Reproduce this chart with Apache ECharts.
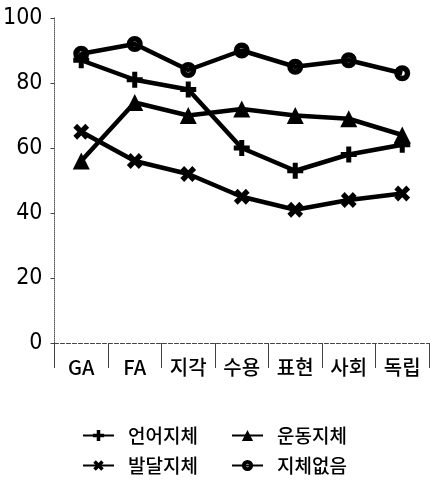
<!DOCTYPE html>
<html>
<head>
<meta charset="utf-8">
<script src="https://cdn.jsdelivr.net/npm/echarts@6/dist/echarts.min.js"></script>
<style>
  html, body { margin: 0; padding: 0; background: #fff; }
  #chart { width: 433px; height: 495px; }
</style>
</head>
<body>
<div id="chart"></div>
<script>
// Domain categories and scores per group
const categories = ['GA', 'FA', '지각', '수용', '표현', '사회', '독립'];
const yTicks = [0, 20, 40, 60, 80, 100];

const languageDelay = [87, 81, 78, 60, 53, 58, 61];   // 언어지체
const motorDelay    = [56, 74, 70, 72, 70, 69, 64];   // 운동지체
const devDelay      = [65, 56, 52, 45, 41, 44, 46];   // 발달지체
const noDelay       = [89, 92, 84, 90, 85, 87, 83];   // 지체없음

const seriesNames = ['언어지체', '운동지체', '발달지체', '지체없음'];

// heavy plus sign; rotated 45 degrees it becomes the cross marker
const plusPath = 'path://M-2.2,-7 h4.4 v4.8 h4.8 v4.4 h-4.8 v4.8 h-4.4 v-4.8 h-4.8 v-4.4 h4.8z';
// solid disc with a small hole in the middle (inner arc runs the other way)
const ringPath = 'path://M0,-7A7,7,0,1,1,0,7A7,7,0,1,1,0,-7Z M0,-2.2A2.2,2.2,0,1,0,0,2.2A2.2,2.2,0,1,0,0,-2.2Z';
const KR = '"Noto Sans CJK KR", sans-serif';
const NUM = '"DejaVu Sans Condensed", "Liberation Sans Narrow", "Liberation Sans", sans-serif';

function lineSeries(name, data, symbol, size, extra) {
  return Object.assign({
    name: name,
    type: 'line',
    data: data,
    symbol: symbol,
    symbolSize: size,
    lineStyle: { color: '#000', width: 4.5 },
    itemStyle: { color: '#000', borderColor: '#000', borderWidth: 0 },
    emphasis: { disabled: true },
    animation: false
  }, extra || {});
}

function legendItem(name, left, top) {
  return {
    data: [name],
    left: left, top: top,
    itemWidth: 31, itemHeight: 14,
    textStyle: { color: '#000', fontSize: 19, fontWeight: 500, fontFamily: KR, padding: [0, 0, 0, 9] },
    selectedMode: false
  };
}

const chart = echarts.init(document.getElementById('chart'), null, { renderer: 'canvas' });
chart.setOption({
  backgroundColor: '#fff',
  grid: { left: 53, right: 4, top: 18, bottom: 152, containLabel: false },
  xAxis: {
    type: 'category',
    data: categories,
    boundaryGap: true,
    axisLine: { show: true, lineStyle: { color: '#444', width: 1, type: 'dashed' } },
    axisTick: { show: true, length: 25, interval: 0, lineStyle: { color: '#444', width: 1 } },
    axisLabel: { color: '#000', fontSize: 20, fontWeight: 500, fontFamily: KR, margin: 14, interval: 0 },
    splitLine: { show: false }
  },
  yAxis: {
    type: 'value',
    min: yTicks[0],
    max: yTicks[yTicks.length - 1],
    interval: 20,
    axisLine: { show: true, lineStyle: { color: '#555', width: 1, type: 'dotted' } },
    axisTick: { show: true, length: 4, lineStyle: { color: '#444' } },
    axisLabel: { color: '#000', fontSize: 23, fontFamily: NUM, margin: 12 },
    splitLine: { show: false }
  },
  legend: [
    legendItem(seriesNames[0], 77, 421),
    legendItem(seriesNames[1], 226, 421),
    legendItem(seriesNames[2], 77, 451),
    legendItem(seriesNames[3], 226, 451)
  ],
  series: [
    lineSeries(seriesNames[0], languageDelay, plusPath, 16),
    lineSeries(seriesNames[1], motorDelay, 'triangle', 17),
    lineSeries(seriesNames[2], devDelay, plusPath, 17, { symbolRotate: 45 }),
    lineSeries(seriesNames[3], noDelay, ringPath, 16)
  ]
});
</script>
</body>
</html>
